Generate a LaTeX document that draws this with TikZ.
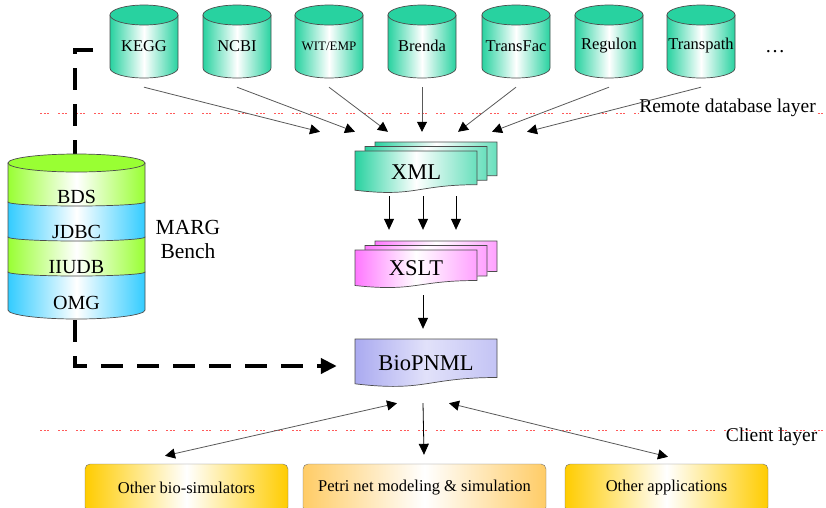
\documentclass[tikz,border=0pt]{standalone}
\usepackage{fontspec}
\setmainfont{Liberation Serif}
\usetikzlibrary{positioning,arrows.meta}

\definecolor{dbgreen}{RGB}{40,210,160}
\definecolor{marggreen}{RGB}{153,255,51}
\definecolor{margblue}{RGB}{51,204,255}
\definecolor{xsltpink}{RGB}{255,120,255}
\definecolor{biolav}{RGB}{170,170,240}
\definecolor{appyellow}{RGB}{255,204,0}
\definecolor{apporange}{RGB}{255,204,102}
\definecolor{layerred}{RGB}{255,90,90}

\begin{document}
\begin{tikzpicture}[x=1pt, y=-1pt,
    every node/.style={inner sep=0pt},
    dbline/.style={draw=black!70, line width=0.7pt},
    dblabel/.style={minimum width=68pt, minimum height=64pt},
    marglabel/.style={font=\fontsize{20}{22}\selectfont},
    doclabel/.style={font=\fontsize{22.5}{24}\selectfont},
    appbox/.style={draw=black!55, rounded corners=5pt, minimum height=48pt, font=\fontsize{16.5}{18}\selectfont},
    layerline/.style={draw=layerred, line width=1pt, dash pattern=on 2pt off 1.5pt on 2pt off 1.5pt on 2pt off 9pt},
    layerlabel/.style={font=\fontsize{19.5}{22}\selectfont},
    inarr/.style={draw=black!65, line width=0.8pt, -{Triangle[length=10pt, width=10pt, color=black]}},
    blkarr/.style={draw=black, line width=0.8pt, -{Triangle[length=11pt, width=10pt]}},
    biarr/.style={draw=black!65, line width=0.8pt, {Triangle[length=10pt, width=10pt, color=black]}-{Triangle[length=10pt, width=10pt, color=black]}},
    dasharr/.style={line width=4pt, dash pattern=on 22pt off 14pt, -{Triangle[length=16pt, width=15pt]}}
  ]
  \useasboundingbox (0,0) rectangle (826,507);

  % Layer separators
  \draw[layerline] (40,113) -- (826,113);
  \draw[layerline] (40,430) -- (826,430);
  \node[layerlabel, fill=white] (remote) at (727.5,108) {Remote database layer};
  \node[layerlabel] (client) at (771.5,437) {Client layer};

  % Remote databases
  \foreach \n/\x/\t/\f in {kegg/144/KEGG/16.5, ncbi/237/NCBI/16.5, wit/329/{WIT/EMP}/13, brenda/422/Brenda/16.5, transfac/516/TransFac/16.5, regulon/609/Regulon/16.5, transpath/701/Transpath/16.5} {
    \draw[dbline, left color=dbgreen, right color=dbgreen, middle color=white] (\x-34,15) -- (\x-34,68) arc (180:0:34 and 10) -- (\x+34,15) -- cycle;
    \draw[dbline, fill=dbgreen] (\x,15) ellipse (34 and 10);
    \node[dblabel, font=\fontsize{\f}{18}\selectfont] (\n) at (\x,46) {\t};
  }
  \node[font=\fontsize{20}{22}\selectfont] (more) at (775,52) {\ldots};

  % XML stack
  \foreach \s in {20,10,0}
    \draw[dbline, left color=dbgreen, right color=dbgreen!70, middle color=white] (355+\s,151-0.45*\s) -- (477+\s,151-0.45*\s) -- (477+\s,184.7-0.45*\s) .. controls (416+\s,184.7-0.45*\s) and (416+\s,197.5-0.45*\s) .. (355+\s,190.2-0.45*\s) -- cycle;
  \node[doclabel, minimum width=122pt, minimum height=42pt] (xml) at (416,172) {XML};

  % XSLT stack
  \foreach \s in {20,10,0}
    \draw[dbline, left color=xsltpink, right color=xsltpink!70, middle color=white] (355+\s,250-0.45*\s) -- (477+\s,250-0.45*\s) -- (477+\s,280.5-0.45*\s) .. controls (416+\s,280.5-0.45*\s) and (416+\s,292.1-0.45*\s) .. (355+\s,285.5-0.45*\s) -- cycle;
  \node[doclabel, minimum width=122pt, minimum height=36pt] (xslt) at (416,268) {XSLT};

  % BioPNML
  \draw[dbline, left color=biolav, right color=biolav!70, middle color=biolav!35] (355,339) -- (497,339) -- (497,377.5) .. controls (426,377.5) and (426,392.2) .. (355,383.8) -- cycle;
  \node[doclabel, minimum width=142pt, minimum height=48pt] (bio) at (426,363) {BioPNML};

  % Client applications
  \node[appbox, left color=appyellow, right color=appyellow, middle color=white, minimum width=203pt] (sim) at (186.5,488) {Other bio-simulators};
  \node[appbox, left color=apporange, right color=apporange, middle color=white, minimum width=243pt] (petri) at (424.5,488) {Petri net modeling \& simulation};
  \node[appbox, left color=appyellow, right color=appyellow, middle color=white, minimum width=203pt] (apps) at (666.5,488) {Other applications};

  % Dashed link from MARG Bench
  \coordinate (dstart) at (93,50);
  \coordinate (dcorner) at (75,366);
  \draw[dasharr] (dstart) -| (dcorner) -- ([xshift=-18pt, yshift=-3pt]bio.west);

  % MARG Bench database
  \foreach \n/\t/\b/\r/\c/\y/\l in {omg/272/310/9/margblue/303/OMG, iiudb/237/272/4/marggreen/267/IIUDB, jdbc/202/237/4/margblue/232/JDBC, bds/163/202/4/marggreen/197/BDS} {
    \draw[dbline, left color=\c, right color=\c, middle color=white] (8,\t) -- (8,\b) arc (180:0:68.5 and \r) -- (145,\t) -- cycle;
    \node[marglabel] (\n) at (76.5,\y) {\l};
  }
  \draw[dbline, fill=marggreen] (76.5,163) ellipse (68.5 and 9);
  \node[font=\fontsize{21.5}{24}\selectfont, align=center] (margname) at (188,239) {MARG\\Bench};

  % Arrows
  \foreach \n/\dx in {kegg/-96, ncbi/-61, wit/-28, brenda/6, transfac/42, regulon/76, transpath/111}
    \draw[inarr] ([yshift=-9pt]\n.south) -- ([xshift=\dx pt, yshift=19pt]xml.north);
  \foreach \dx in {-27,7,40}
    \draw[blkarr] ([xshift=\dx pt, yshift=-3pt]xml.south) -- ([xshift=\dx pt, yshift=20pt]xslt.north);
  \draw[blkarr] ([xshift=7pt, yshift=-9pt]xslt.south) -- ([xshift=-3pt, yshift=10pt]bio.north);
  \draw[biarr] ([xshift=-29pt, yshift=-16pt]bio.south) -- ([xshift=-21.5pt, yshift=8pt]sim.north);
  \draw[blkarr] ([xshift=-3pt, yshift=-16pt]bio.south) -- ([xshift=-0.5pt, yshift=9pt]petri.north);
  \draw[biarr] ([xshift=23pt, yshift=-16pt]bio.south) -- ([xshift=1.5pt, yshift=7pt]apps.north);
\end{tikzpicture}
\end{document}
